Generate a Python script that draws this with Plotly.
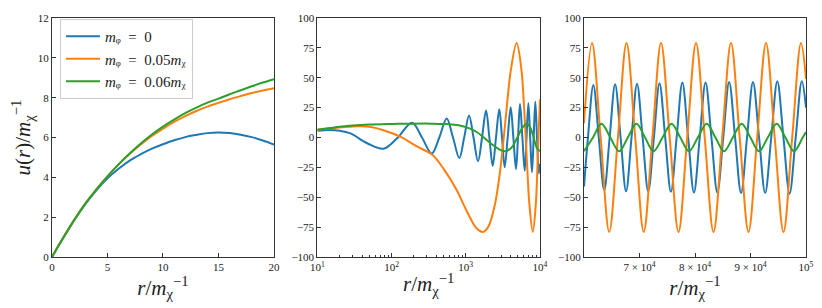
import plotly.graph_objects as go

# ---------------- data ----------------
labels = ["<i>m</i>ᵩ\u2002=\u20020",
          "<i>m</i>ᵩ\u2002=\u20020.05<i>m</i>ᵪ",
          "<i>m</i>ᵩ\u2002=\u20020.06<i>m</i>ᵪ"]
colors = ["#1f77b4", "#ff7f0e", "#2ca02c"]

# panel 1 : r in [0, 20]
p1_r = [0, 1, 2, 3, 4, 5, 6, 7, 8, 9, 10, 11, 12, 13, 14, 15, 16, 17, 18, 19, 20]
p1_u0 = [0, 0.95, 1.85, 2.65, 3.35, 3.95, 4.43, 4.84, 5.16, 5.44, 5.66, 5.86, 6.02, 6.13,
         6.22, 6.25, 6.22, 6.14, 6.02, 5.85, 5.65]
p1_u5 = [0, 0.95, 1.85, 2.68, 3.4, 4.05, 4.65, 5.18, 5.65, 6.08, 6.44, 6.78, 7.07, 7.33,
         7.55, 7.74, 7.92, 8.08, 8.23, 8.36, 8.47]
p1_u6 = [0, 0.95, 1.85, 2.68, 3.4, 4.05, 4.65, 5.2, 5.7, 6.15, 6.55, 6.9, 7.22, 7.5,
         7.75, 7.95, 8.17, 8.37, 8.57, 8.76, 8.93]

# panel 2 : r in [10, 1e4] (log)
p2_r0 = [10, 14.5, 20, 28, 47, 78, 119, 189, 257, 348, 440, 553, 673, 818, 952, 1107,
         1272, 1462, 1656, 1875, 2080, 2307, 2555, 2830, 3076, 3344, 3670, 4029, 4375,
         4750, 5055, 5380, 5790, 6225, 6590, 6970, 7375, 7800, 8215, 8650, 9110, 9650, 10000]
p2_u0 = [5.66, 6.24, 5.65, 3.4, -4.8, -9.4, -0.6, 12.4, 0, -13.4, 0, 15.8, 0, -17.2, 0, 18.5,
         0, -19.9, 0, 22.6, 0, -23.7, 0, 23.7, 0, -24.8, 0, 25.3, 0,
         -26.4, 0, 28, 0, -27.8, 0, 28.6, 0, -29, 0, 30, 0, -30, -22]
p2_r5 = [10, 15, 20, 28, 38, 55, 78, 131, 220, 351, 500, 755, 950, 1140, 1400, 1700, 2000,
         2470, 2860, 3250, 3640, 4040, 4850, 5640, 6030, 6420, 6810, 7200, 8000, 8780,
         9400, 10000]
p2_u5 = [6.44, 7.74, 8.47, 9.1, 9.4, 8.6, 6.1, 0.7, -7.5, -14.3, -26, -44, -57, -67, -76,
         -79, -75, -56, -31, 0, 31, 56, 79, 56, 31, 0, -31, -56, -79, -56, -10, 32]
p2_r6 = [10, 15, 20, 30, 50, 100, 200, 350, 550, 800, 1100, 1400, 1750, 2200, 2700, 3380,
         4150, 4950, 5800, 6620, 7400, 8200, 9000, 10000]
p2_u6 = [6.55, 7.95, 8.93, 10.0, 10.8, 11.3, 11.6, 11.6, 11.2, 10.2, 7.8, 4.6, 0, -5.2,
         -9.2, -11.5, -8.3, 0, 8.3, 11.5, 8.3, 0, -8.3, -11.5]

# panel 3 : r in [6e4, 1e5]
p3_r0 = [60000, 60710, 61682, 62660, 63640, 64620, 65600, 66590, 67575, 68560, 69550,
         70560, 71575, 72590, 73600, 74630, 75660, 76690, 77720, 78765, 79810, 80855,
         81900, 82960, 84025, 85090, 86150, 87225, 88300, 89375, 90450, 91545, 92640,
         93735, 94830, 95935, 97040, 98145, 99250, 100000]
p3_u0 = [-41, 0, 44, 0, -44, 0, 44.5, 0, -45, 0, 45, 0, -45, 0, 45.5, 0, -45.5, 0, 46, 0,
         -46, 0, 46, 0, -46, 0, 46.5, 0, -46.5, 0, 46.5, 0, -46.5, 0, 47, 0, -47, 0, 47, 25]
p3_r5 = [60000, 61441, 62991, 64541, 66108, 67658, 69225, 70757, 72324, 73874, 75441,
         77027, 78595, 80180, 81748, 83333, 84901, 86486, 88054, 89640, 91207, 92793,
         94360, 95946, 97513, 99099, 100000]
p3_u5 = [12, 79, 0, -79, 0, 79, 0, -79, 0, 79, 0, -79, 0, 79, 0, -79, 0, 79, 0, -79, 0,
         79, 0, -79, 0, 79, 49]
p3_r6 = [60000, 61622, 63153, 64739, 66342, 67892, 69459, 70991, 72523, 74144, 75766,
         77351, 78919, 80504, 82108, 83676, 85225, 86811, 88414, 89982, 91532, 93117,
         94721, 96288, 97838, 99405, 100000]
p3_u6 = [-11.4, 0, 11.5, 0, -11.5, 0, 11.5, 0, -11.5, 0, 11.5, 0, -11.5, 0, 11.5, 0,
         -11.5, 0, 11.5, 0, -11.5, 0, 11.5, 0, -11.5, 0, 4.5]

p1_yticks = [0, 2, 4, 6, 8, 10, 12]
p1_xticks = [0, 5, 10, 15, 20]
p23_yticks = [-100, -75, -50, -25, 0, 25, 50, 75, 100]
p2_xticks = [10, 100, 1000, 10000]
p2_xticktext = ["10<sup>1</sup>", "10<sup>2</sup>", "10<sup>3</sup>", "10<sup>4</sup>"]
p2_minor = [20, 30, 40, 50, 60, 70, 80, 90, 200, 300, 400, 500, 600, 700, 800, 900,
            2000, 3000, 4000, 5000, 6000, 7000, 8000, 9000]
p3_xticks = [70000, 80000, 90000, 100000]
p3_xticktext = ["7 × 10<sup>4</sup>", "8 × 10<sup>4</sup>", "9 × 10<sup>4</sup>", "10<sup>5</sup>"]

# ---------------- figure ----------------
FONT = "Liberation Serif"
fig = go.Figure()

panels = [
    ("x", "y", [(p1_r, p1_u0), (p1_r, p1_u5), (p1_r, p1_u6)], True),
    ("x2", "y2", [(p2_r0, p2_u0), (p2_r5, p2_u5), (p2_r6, p2_u6)], False),
    ("x3", "y3", [(p3_r0, p3_u0), (p3_r5, p3_u5), (p3_r6, p3_u6)], False),
]
for xa, ya, data, show in panels:
    for i, (xs, ys) in enumerate(data):
        fig.add_trace(go.Scatter(
            x=xs, y=ys, mode="lines", xaxis=xa, yaxis=ya,
            line=dict(color=colors[i], width=2, shape="spline", smoothing=1),
            name=labels[i], showlegend=show))

axis_common = dict(showline=True, linecolor="#333333", linewidth=1, mirror=True,
                   ticks="inside", ticklen=4, tickcolor="#333333", tickwidth=1,
                   showgrid=False, zeroline=False, ticklabeloverflow="allow",
                   tickfont=dict(family=FONT, size=11, color="#222222"))
xtitle = dict(text="<i>r</i>/<i>m</i><sub>χ</sub><sup>−1</sup>",
              font=dict(family=FONT, size=21, color="#222222"), standoff=4)

# the page body has an 8px margin, so the figure is 8px smaller than the window
fig.update_layout(
    width=814, height=300,
    margin=dict(l=44, r=16, t=4, b=51),
    paper_bgcolor="white", plot_bgcolor="white",
    xaxis=dict(domain=[0, 0.2944], range=[0, 20], tickvals=p1_xticks, anchor="y",
               title=xtitle, **axis_common),
    yaxis=dict(domain=[0, 1], range=[0, 12], tickvals=p1_yticks, anchor="x",
               title=dict(text="<i>u</i>(<i>r</i>)/<i>m</i><sub>χ</sub><sup>−1</sup>",
                          font=dict(family=FONT, size=21, color="#222222"), standoff=4),
               **axis_common),
    xaxis2=dict(domain=[0.3519, 0.6472], type="log", range=[1, 4], tickvals=p2_xticks,
                ticktext=p2_xticktext, anchor="y2", title=xtitle,
                minor=dict(tickvals=p2_minor, ticks="inside", ticklen=2, tickcolor="#333333"),
                **axis_common),
    yaxis2=dict(domain=[0, 1], range=[-100, 100], tickvals=p23_yticks, anchor="x2",
                **axis_common),
    xaxis3=dict(domain=[0.7056, 1], range=[60000, 100000], tickvals=p3_xticks,
                ticktext=p3_xticktext, anchor="y3", title=xtitle, **axis_common),
    yaxis3=dict(domain=[0, 1], range=[-100, 100], tickvals=p23_yticks, anchor="x3",
                **axis_common),
    legend=dict(x=0.0106, y=0.996, xanchor="left", yanchor="top",
                bgcolor="rgba(255,255,255,0.8)", bordercolor="#cccccc", borderwidth=1,
                font=dict(family=FONT, size=15, color="#222222"),
                itemwidth=34, tracegroupgap=0),
    showlegend=True,
)

fig.write_html("out.html")
